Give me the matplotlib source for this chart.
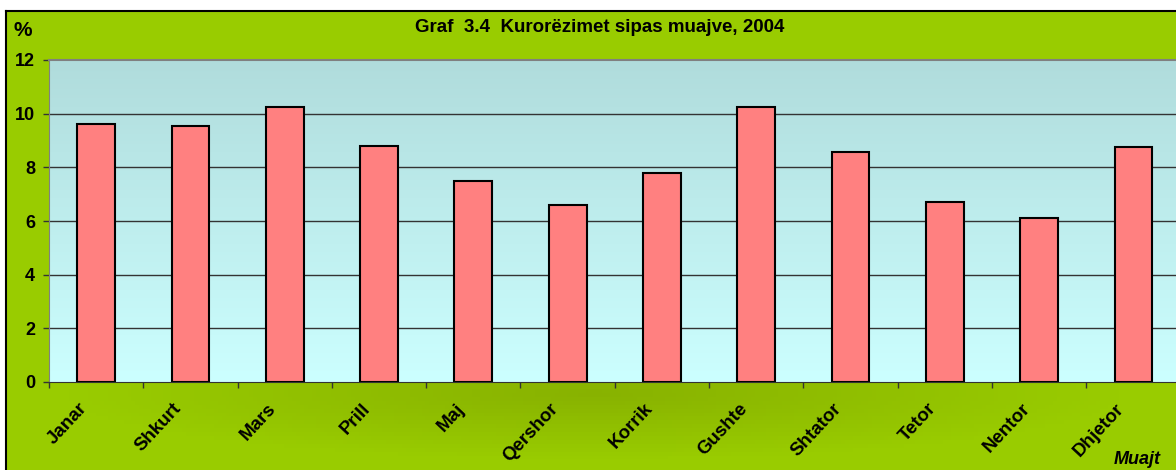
import numpy as np
import matplotlib
matplotlib.use("Agg")
import matplotlib.pyplot as plt
from matplotlib.colors import LinearSegmentedColormap
from matplotlib.transforms import ScaledTranslation

plt.rcParams['font.family'] = ['Liberation Sans', 'DejaVu Sans']

muajt = ['Janar', 'Shkurt', 'Mars', 'Prill', 'Maj', 'Qershor', 'Korrik',
         'Gushte', 'Shtator', 'Tetor', 'Nentor', 'Dhjetor']
vlerat = [9.6, 9.55, 10.25, 8.8, 7.48, 6.6, 7.78, 10.25, 8.56, 6.7, 6.13, 8.75]
y_ticks = [0, 2, 4, 6, 8, 10, 12]

W, H = 1176, 470
fig = plt.figure(figsize=(W / 100, H / 100), dpi=100)
fig.patch.set_facecolor('white')

# sfondi i gjelber i grafikut (me nje hije me te erret poshte boshtit)
bg = fig.add_axes([6 / W, -0.02, 1.0, (H - 11) / H + 0.02])
gx, gy = np.meshgrid(np.linspace(0, 1, 300), np.linspace(0, 1, 120))
d = np.sqrt(((gx - 0.5) / 0.45) ** 2 + ((gy - 0.18) / 0.14) ** 2)
shade = np.clip(1 - d, 0, 1)
green = LinearSegmentedColormap.from_list('g', ['#99CC00', '#88B200'])
bg.imshow(shade, cmap=green, vmin=0, vmax=1, aspect='auto',
          extent=[0, 1, 0, 1], origin='lower')
bg.set_xlim(0, 1)
bg.set_ylim(0, 1)
bg.set_xticks([])
bg.set_yticks([])
for s in bg.spines.values():
    s.set_color('black')
    s.set_linewidth(1.5)

ax = fig.add_axes([49 / W, (H - 382) / H, (94.3 * 12) / W, (382 - 60) / H])
ax.set_facecolor('none')
x = np.arange(len(muajt))

# gradient i zones se grafikut
grad = np.linspace(0, 1, 200).reshape(-1, 1)
cm = LinearSegmentedColormap.from_list('p', ['#CCFFFF', '#B0DCDC'])
ax.imshow(grad, cmap=cm, aspect='auto', extent=[-0.5, 11.5, 0, 12],
          origin='lower', zorder=0)

for yv in y_ticks[1:-1]:
    ax.axhline(yv, color='#333333', lw=1, zorder=1)

ax.bar(x, vlerat, width=0.4, color='#FF8080', edgecolor='black',
       linewidth=1.5, zorder=2)

ax.set_xlim(-0.5, 11.5)
ax.set_ylim(0, 12)
ax.set_yticks(y_ticks)
ax.set_yticklabels([str(v) for v in y_ticks], fontsize=13, fontweight='bold')
ax.tick_params(axis='y', direction='out', length=4, width=1, color='#333333', pad=6)

ax.set_xticks(x)
ax.set_xticklabels(muajt, rotation=47, ha='right', va='top',
                   rotation_mode='anchor', fontsize=13.5, fontweight='bold')
ax.tick_params(axis='x', which='major', length=0, pad=13)
shift = ScaledTranslation(-18 / 100, 0, fig.dpi_scale_trans)
for lbl in ax.get_xticklabels():
    lbl.set_transform(lbl.get_transform() + shift)
ax.set_xticks(np.arange(-0.5, 12, 1), minor=True)
ax.tick_params(axis='x', which='minor', direction='out', length=4,
               width=1, color='#333333')

ax.spines['left'].set_color('#808080')
ax.spines['top'].set_color('#808080')
ax.spines['top'].set_linewidth(1.5)
ax.spines['bottom'].set_color('#333333')
ax.spines['right'].set_visible(False)

fig.text(13 / W, 1 - 30 / H, '%', fontsize=15, fontweight='bold', va='center')
fig.text(600 / W, 1 - 27 / H, 'Graf  3.4  Kurorëzimet sipas muajve, 2004',
         fontsize=13.5, fontweight='bold', ha='center', va='center')
fig.text(1114 / W, 1 - 459 / H, 'Muajt', fontsize=13, fontweight='bold',
         style='italic', ha='left', va='center')

fig.savefig('out.png', dpi=100)
